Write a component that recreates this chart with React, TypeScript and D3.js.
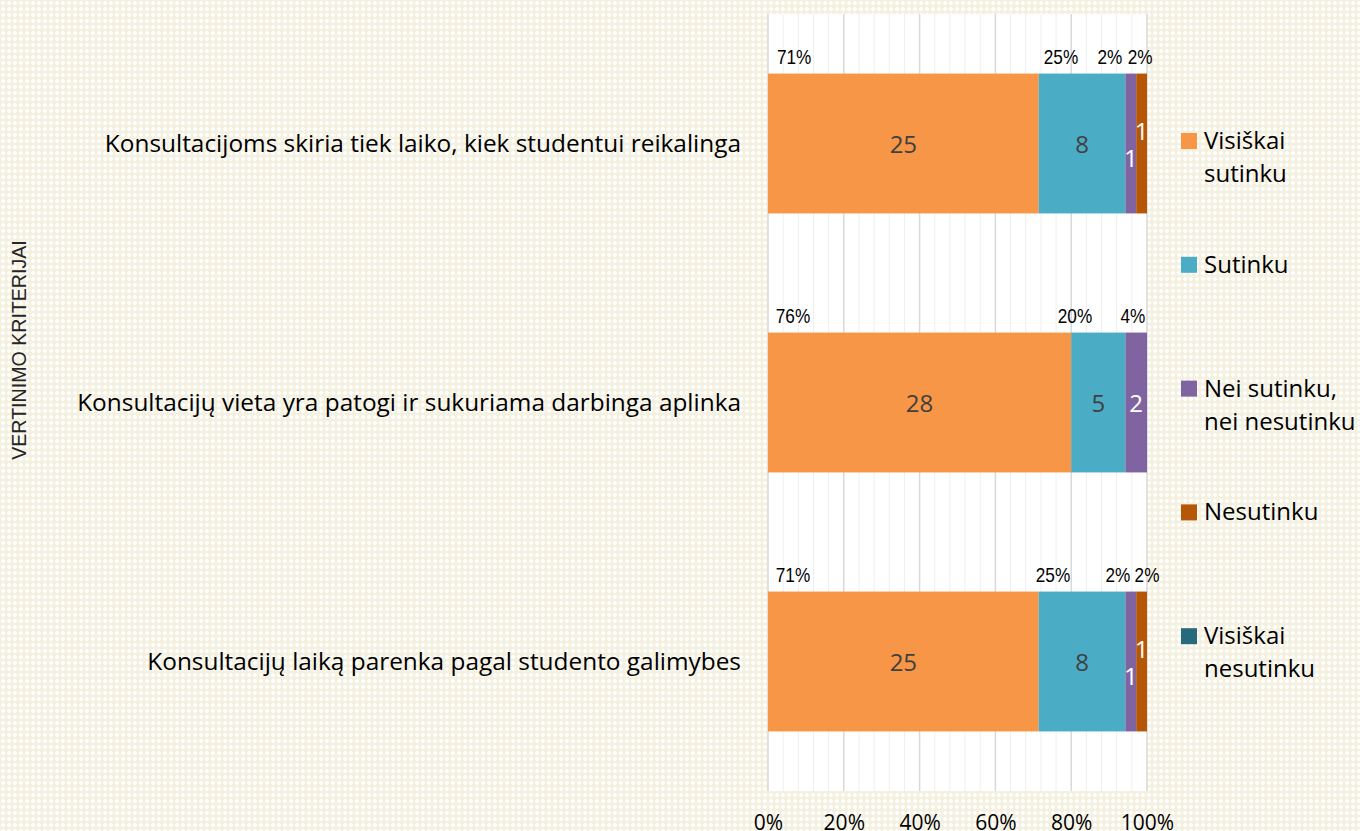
import React, { useRef, useEffect } from 'react';
import * as d3 from 'd3';

// chart data
const categories = [
  'Konsultacijoms skiria tiek laiko, kiek studentui reikalinga',
  'Konsultacijų vieta yra patogi ir sukuriama darbinga aplinka',
  'Konsultacijų laiką parenka pagal studento galimybes',
];
const seriesNames = ['Visiškai sutinku', 'Sutinku', 'Nei sutinku, nei nesutinku', 'Nesutinku', 'Visiškai nesutinku'];
const legendLines = [['Visiškai', 'sutinku'], ['Sutinku'], ['Nei sutinku,', 'nei nesutinku'], ['Nesutinku'], ['Visiškai', 'nesutinku']];
const visiskaiSutinku = [25, 28, 25];
const sutinku = [8, 5, 8];
const neiSutinku = [1, 2, 1];
const nesutinku = [1, 0, 1];
const visiskaiNesutinku = [0, 0, 0];
// percentage labels written above each bar, and where they sit on the 0..1 axis
const pctLabels = [['71%', '25%', '2%', '2%'], ['76%', '20%', '4%'], ['71%', '25%', '2%', '2%']];
const pctLabelAt = [[0.069, 0.773, 0.902, 0.982], [0.066, 0.81, 0.963], [0.066, 0.752, 0.923, 1.0]];
const xTicks = [0, 0.2, 0.4, 0.6, 0.8, 1];

const colors = ['#f79646', '#4bacc6', '#8064a2', '#b65708', '#276a7c'];
const innerText = ['#404040', '#404040', '#ffffff', '#ffffff', '#ffffff'];

const App = () => {
  const svgRef = useRef<SVGSVGElement>(null);

  useEffect(() => {
    const svg = d3.select(svgRef.current);
    svg.selectAll('*').remove();

    const width = 1360;
    const height = 831;
    const left = 768;
    const right = 1147;
    const top = 14;
    const bottom = 791;

    // background texture
    const defs = svg.append('defs');
    const pat = defs.append('pattern').attr('id', 'bgpat').attr('width', 6).attr('height', 6).attr('patternUnits', 'userSpaceOnUse');
    pat.append('rect').attr('width', 6).attr('height', 6).attr('fill', '#f5f1e1');
    pat.append('rect').attr('x', 2).attr('y', 1).attr('width', 2).attr('height', 4).attr('fill', '#ffffff');
    pat.append('rect').attr('x', 1).attr('y', 2).attr('width', 4).attr('height', 2).attr('fill', '#ffffff');
    svg.append('rect').attr('width', width).attr('height', height).attr('fill', 'url(#bgpat)');

    const x = d3.scaleLinear().domain([0, 1]).range([left, right]);
    const y = d3.scaleBand<string>().domain(categories).range([top, bottom]).paddingInner(0.46).paddingOuter(0.23);

    // plot area
    svg.append('rect').attr('x', left).attr('y', top).attr('width', right - left).attr('height', bottom - top).attr('fill', '#ffffff');

    const minor = d3.range(0, 1.0001, 0.04).filter((v) => Math.round(v * 100) % 20 !== 0);
    svg.append('g').selectAll('line').data(minor).join('line')
      .attr('x1', (d) => x(d)).attr('x2', (d) => x(d)).attr('y1', top).attr('y2', bottom)
      .attr('stroke', '#efefef').attr('stroke-width', 1);
    svg.append('g').selectAll('line').data(xTicks).join('line')
      .attr('x1', (d) => x(d)).attr('x2', (d) => x(d)).attr('y1', top).attr('y2', bottom)
      .attr('stroke', '#d9d9d9').attr('stroke-width', 1.5);

    const series = [visiskaiSutinku, sutinku, neiSutinku, nesutinku, visiskaiNesutinku];
    const rows = categories.map((c, i) => {
      const vals = series.map((s) => s[i]);
      const total = d3.sum(vals);
      let acc = 0;
      return vals.map((v, k) => {
        const seg = { cat: c, row: i, k, v, x0: acc / total, x1: (acc + v) / total };
        acc += v;
        return seg;
      });
    });

    const segs = rows.flat().filter((s) => s.v > 0);
    const bars = svg.append('g');
    bars.selectAll('rect').data(segs).join('rect')
      .attr('x', (d) => x(d.x0))
      .attr('y', (d) => y(d.cat)!)
      .attr('width', (d) => x(d.x1) - x(d.x0))
      .attr('height', y.bandwidth())
      .attr('fill', (d) => colors[d.k]);

    // value labels inside segments; narrow neighbours are staggered
    const narrow = (s: any) => s && s.v > 0 && x(s.x1) - x(s.x0) < 16;
    bars.selectAll('text').data(segs).join('text')
      .attr('x', (d) => (x(d.x0) + x(d.x1)) / 2)
      .attr('y', (d) => {
        const cy = y(d.cat)! + y.bandwidth() / 2 + 9;
        const row = rows[d.row];
        if (narrow(d) && narrow(row[d.k + 1])) return cy + 14;
        if (narrow(d) && narrow(row[d.k - 1])) return cy - 13;
        return cy;
      })
      .attr('text-anchor', 'middle')
      .style('font-family', '"Open Sans", "Noto Sans", sans-serif')
      .style('font-size', '24px')
      .style('fill', (d) => innerText[d.k])
      .text((d) => d.v);

    // percentage labels above bars (narrow face, squeezed horizontally)
    categories.forEach((c, i) => {
      svg.append('g').selectAll('text').data(pctLabels[i]).join('text')
        .attr('transform', (_d, j) => `translate(${x(pctLabelAt[i][j])},${y(c)! - 10}) scale(0.86,1)`)
        .attr('text-anchor', 'middle')
        .style('font-family', '"Liberation Sans Narrow", "Arial Narrow", "Liberation Sans", sans-serif')
        .style('font-size', '20px')
        .style('fill', '#000000')
        .text((d) => d);
    });

    // category labels
    svg.append('g').selectAll('text').data(categories).join('text')
      .attr('x', 741)
      .attr('y', (d) => y(d)! + y.bandwidth() / 2 + 8)
      .attr('text-anchor', 'end')
      .style('font-family', '"Open Sans", "Noto Sans", sans-serif')
      .style('font-size', '24.4px')
      .style('fill', '#000000')
      .text((d) => d);

    // x axis
    const axis = svg.append('g').attr('transform', `translate(0,${bottom})`)
      .call(d3.axisBottom(x).tickValues(xTicks).tickFormat(d3.format('.0%')).tickSize(0).tickPadding(24));
    axis.select('.domain').remove();
    axis.selectAll('text')
      .style('font-family', '"Open Sans", "Noto Sans", sans-serif')
      .style('font-size', '21px')
      .style('fill', '#000000');

    // y axis title
    svg.append('text')
      .attr('transform', `translate(26,350) rotate(-90)`)
      .attr('text-anchor', 'middle')
      .style('font-family', '"Liberation Sans", Arial, sans-serif')
      .style('font-size', '19.6px')
      .style('fill', '#262626')
      .text('VERTINIMO KRITERIJAI');

    // legend
    const leg = svg.append('g').selectAll('g').data(seriesNames).join('g')
      .attr('transform', (_d, i) => `translate(1181,${149 + i * 123.8})`);
    leg.append('rect').attr('x', 0).attr('y', -16).attr('width', 16).attr('height', 16).attr('fill', (_d, i) => colors[i]);
    leg.append('text')
      .attr('x', 23)
      .attr('y', 0)
      .style('font-family', '"Open Sans", "Noto Sans", sans-serif')
      .style('font-size', '24px')
      .style('fill', '#000000')
      .selectAll('tspan').data((_d, i) => legendLines[i]).join('tspan')
      .attr('x', 23)
      .attr('dy', (_d, j) => (j === 0 ? 0 : 33))
      .text((d) => d);
  }, []);

  return (
    <div>
      <svg ref={svgRef} width="1360" height="831" style={{ position: 'absolute', left: 0, top: 0, display: 'block' }}></svg>
    </div>
  );
};

export default App;
